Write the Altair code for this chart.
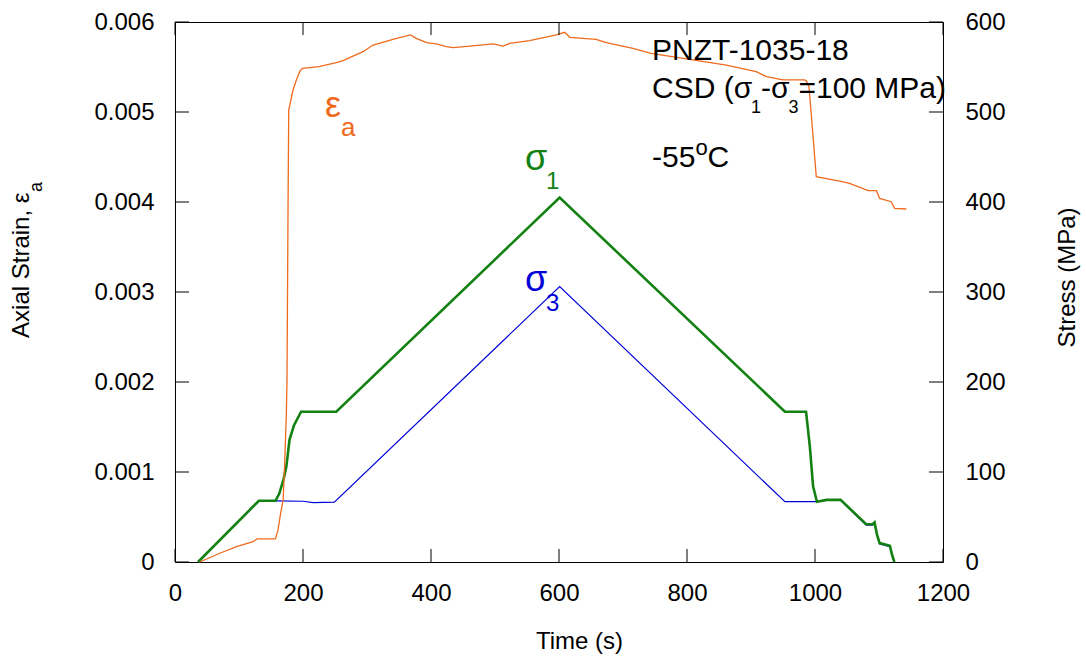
import altair as alt
import pandas as pd

# ---------------- data ----------------
time_sigma1 = [36, 131, 157, 163, 170, 174, 179, 186, 197, 252, 601, 953, 986, 992, 997,
               1003, 1018, 1040, 1080, 1090, 1093, 1097, 1101, 1117, 1120, 1124]
sigma1 = [0, 68, 68, 76, 93, 106, 136, 152, 167, 167, 405, 167, 167, 128, 84,
          67, 69, 69, 42, 42, 44, 30, 21, 18, 9, 0]

time_sigma3 = [36, 131, 157, 200, 216, 249, 601, 953, 986, 1003, 1018, 1040, 1080,
               1090, 1093, 1097, 1101, 1117, 1120, 1124]
sigma3 = [0, 68, 68, 67.5, 66, 66.5, 306, 67, 67, 67, 68.5, 68.5, 41,
          41, 43, 29, 20, 17, 9, 0]

time_strain = [38.6, 70, 96, 122, 128, 157, 161, 165, 169, 171.4, 174, 175, 176.6, 177.7,
               184.4, 189.6, 194.8, 199, 225, 252, 262.5, 293.8, 309.5, 346, 368, 377,
               393, 408.4, 424, 434.5, 460.5, 497, 512.5, 523, 554, 596, 609, 617, 637.5,
               658, 674, 715.6, 744, 809, 861.5, 908, 924, 950, 984, 986.6, 990.6, 997,
               1002, 1038.6, 1054, 1083, 1096, 1101, 1119, 1124.5, 1142.8]
strain = [0, 0.000097, 0.00017, 0.000226, 0.000256, 0.000256, 0.000356, 0.00054, 0.00069,
          0.0011, 0.00165, 0.00202, 0.00391, 0.005022, 0.005244, 0.005356, 0.005448,
          0.005485, 0.005505, 0.005548, 0.00557, 0.00567, 0.005744, 0.005818, 0.005856,
          0.005818, 0.00577, 0.005756, 0.005726, 0.005715, 0.005733, 0.005756, 0.005733,
          0.005763, 0.005793, 0.005856, 0.005885, 0.00583, 0.005818, 0.005807, 0.00577,
          0.005707, 0.005652, 0.005578, 0.005522, 0.005448, 0.005393, 0.005356, 0.005356,
          0.005344, 0.005281, 0.004726, 0.004281, 0.004233, 0.004207, 0.004126, 0.004126,
          0.00404, 0.004003, 0.00393, 0.003922]

x_ticks = [0, 200, 400, 600, 800, 1000, 1200]
strain_ticks = [0, 0.001, 0.002, 0.003, 0.004, 0.005, 0.006]
stress_ticks = [0, 100, 200, 300, 400, 500, 600]

# ---------------- styling ----------------
FONT = "Liberation Sans"
W, H = 768, 540
ORANGE = "#F06A1C"
GREEN = "#138213"
BLUE = "#0000D8"

x_scale = alt.Scale(domain=[0, 1200], nice=False, zero=False)
strain_scale = alt.Scale(domain=[0, 0.006], nice=False, zero=False)
stress_scale = alt.Scale(domain=[0, 600], nice=False, zero=False)

strain_df = pd.DataFrame({"t": time_strain, "v": strain, "i": range(len(strain))})
s1_df = pd.DataFrame({"t": time_sigma1, "v": sigma1, "i": range(len(sigma1))})
s3_df = pd.DataFrame({"t": time_sigma3, "v": sigma3, "i": range(len(sigma3))})

common_lbl = dict(labelFont=FONT, labelFontSize=24, labelColor="black",
                  titleFont=FONT, titleFontSize=24, titleFontWeight="normal",
                  titleColor="black", tickColor="transparent", tickSize=1,
                  domain=False, grid=False)

x_axis = alt.Axis(orient="bottom", values=x_ticks, format="d", labelPadding=18,
                  labelFlush=False,
                  title="Time (s)", titleX=404, titleY=86, titleAlign="center",
                  titleBaseline="alphabetic", **common_lbl)
y_left = alt.Axis(orient="left", values=strain_ticks,
                  labelExpr="datum.value == 0 ? '0' : format(datum.value, '.3f')",
                  labelPadding=20, title="Axial Strain, ε", titleAngle=270,
                  titleAlign="right", titleBaseline="alphabetic", titleX=-147,
                  titleY=170, **common_lbl)
y_right = alt.Axis(orient="right", values=stress_ticks, format="d", labelPadding=21,
                   title="Stress (MPa)", titleAngle=270, titleAlign="center",
                   titleBaseline="alphabetic", titleX=131, titleY=255, **common_lbl)

# ---------------- stress layer ----------------
s3_line = alt.Chart(s3_df).mark_line(color=BLUE, strokeWidth=1.2).encode(
    x=alt.X("t:Q", scale=x_scale, axis=x_axis),
    y=alt.Y("v:Q", scale=stress_scale, axis=y_right),
    order="i:Q")
s1_line = alt.Chart(s1_df).mark_line(color=GREEN, strokeWidth=2.6).encode(
    x=alt.X("t:Q", scale=x_scale),
    y=alt.Y("v:Q", scale=stress_scale),
    order="i:Q")

sig_lbl = pd.DataFrame([
    {"t": 546.9, "v": 435.6, "text": "σ", "fs": 36, "c": GREEN},
    {"t": 579.7, "v": 414.4, "text": "1", "fs": 24, "c": GREEN},
    {"t": 546.9, "v": 301.1, "text": "σ", "fs": 36, "c": BLUE},
    {"t": 579.7, "v": 278.9, "text": "3", "fs": 24, "c": BLUE},
])
sig_text = alt.Chart(sig_lbl).mark_text(align="left", baseline="alphabetic", font=FONT).encode(
    x=alt.X("t:Q", scale=x_scale),
    y=alt.Y("v:Q", scale=stress_scale),
    text="text:N",
    size=alt.Size("fs:Q", scale=None, legend=None),
    color=alt.Color("c:N", scale=None, legend=None))

right_ticks = alt.Chart(pd.DataFrame({"v": stress_ticks})).mark_rule(color="black", strokeWidth=1).encode(
    y=alt.Y("v:Q", scale=stress_scale),
    x=alt.value(W), x2=alt.value(W - 14))

stress_layer = alt.layer(s3_line, s1_line, sig_text, right_ticks)

# ---------------- strain layer ----------------
e_line = alt.Chart(strain_df).mark_line(color=ORANGE, strokeWidth=1.3).encode(
    x=alt.X("t:Q", scale=x_scale),
    y=alt.Y("v:Q", scale=strain_scale, axis=y_left),
    order="i:Q")

ann = pd.DataFrame([
    {"t": 234.4, "v": 0.0049444, "text": "ε", "fs": 36, "c": ORANGE},
    {"t": 259.4, "v": 0.0047333, "text": "a", "fs": 26, "c": ORANGE},
    {"t": 745.3, "v": 0.0055778, "text": "PNZT-1035-18", "fs": 30, "c": "black"},
    {"t": 745.3, "v": 0.0051522, "text": "CSD (σ", "fs": 30, "c": "black"},
    {"t": 900.0, "v": 0.0049856, "text": "1", "fs": 18, "c": "black"},
    {"t": 915.6, "v": 0.0051522, "text": "-σ", "fs": 30, "c": "black"},
    {"t": 958.4, "v": 0.0049856, "text": "3", "fs": 18, "c": "black"},
    {"t": 974.1, "v": 0.0051522, "text": "=100 MPa)", "fs": 30, "c": "black"},
    {"t": 745.3, "v": 0.0043922, "text": "-55", "fs": 30, "c": "black"},
    {"t": 813.1, "v": 0.0045222, "text": "o", "fs": 22, "c": "black"},
    {"t": 832.2, "v": 0.0043922, "text": "C", "fs": 30, "c": "black"},
])
ann_text = alt.Chart(ann).mark_text(align="left", baseline="alphabetic", font=FONT).encode(
    x=alt.X("t:Q", scale=x_scale),
    y=alt.Y("v:Q", scale=strain_scale),
    text="text:N",
    size=alt.Size("fs:Q", scale=None, legend=None),
    color=alt.Color("c:N", scale=None, legend=None))

title_sub = alt.Chart(pd.DataFrame({"t": [-207.8], "v": [0.0041111], "text": ["a"]})).mark_text(
    align="left", baseline="alphabetic", angle=270, font=FONT, fontSize=18, color="black").encode(
    x=alt.X("t:Q", scale=x_scale),
    y=alt.Y("v:Q", scale=strain_scale),
    text="text:N")

xt_df = pd.DataFrame({"t": x_ticks})
bottom_ticks = alt.Chart(xt_df).mark_rule(color="black", strokeWidth=1).encode(
    x=alt.X("t:Q", scale=x_scale), y=alt.value(H), y2=alt.value(H - 13))
top_ticks = alt.Chart(xt_df).mark_rule(color="black", strokeWidth=1).encode(
    x=alt.X("t:Q", scale=x_scale), y=alt.value(0), y2=alt.value(13))
left_ticks = alt.Chart(pd.DataFrame({"v": strain_ticks})).mark_rule(color="black", strokeWidth=1).encode(
    y=alt.Y("v:Q", scale=strain_scale), x=alt.value(0), x2=alt.value(14))

strain_layer = alt.layer(e_line, ann_text, title_sub, bottom_ticks, top_ticks, left_ticks)

chart = alt.layer(stress_layer, strain_layer).resolve_scale(y="independent").properties(
    width=W, height=H,
    autosize=alt.AutoSizeParams(type="none"),
    padding={"left": 175, "top": 22, "right": 142, "bottom": 95},
    background="white",
).configure_view(stroke="black", strokeWidth=1)

chart.save("out.html", embed_options={"renderer": "svg", "actions": False})
